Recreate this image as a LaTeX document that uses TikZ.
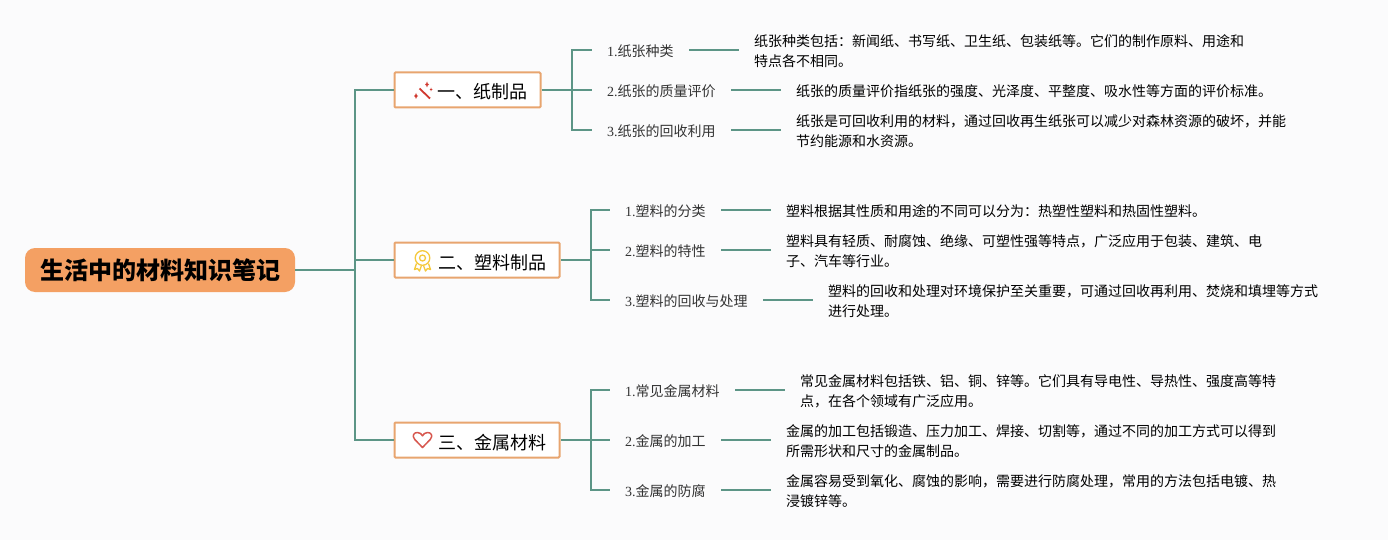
\documentclass[tikz,border=0pt]{standalone}
\usepackage{fontspec}
\setmainfont{Noto Sans CJK SC}
\newfontfamily\lat{Liberation Serif}
\definecolor{bgc}{HTML}{FBFBFC}
\definecolor{linec}{HTML}{5C9586}
\definecolor{rootc}{HTML}{F4A063}
\definecolor{boxc}{HTML}{E8A56F}
\definecolor{subt}{HTML}{333333}
\definecolor{iconr}{HTML}{D0392F}
\definecolor{icony}{HTML}{F5C93D}
\tikzset{
  x=1pt,y=-1pt,
  rootbox/.style={fill=rootc,rounded corners=10pt,minimum width=270pt,minimum height=44pt,inner sep=0pt,font=\fontsize{24}{28}\selectfont\bfseries,text=black},
  branchbox/.style={draw=boxc,line width=2pt,fill=white,rounded corners=1pt,minimum height=35pt,inner sep=0pt,anchor=west,text height=18pt,text depth=0pt,font=\fontsize{18}{22}\selectfont,text=black},
  sublabel/.style={anchor=west,inner xsep=15pt,inner ysep=2pt,yshift=-1pt,align=left,font=\fontsize{14}{18}\selectfont,text=subt},
  detail/.style={anchor=west,inner xsep=15pt,inner ysep=2pt,yshift=-1pt,align=left,font=\fontsize{14}{20}\selectfont,text=black},
  link/.style={draw=linec,line width=2pt},
  iconline/.style={line width=1.3pt,line join=round}
}
\begin{document}
\begin{tikzpicture}
\useasboundingbox (0,0) rectangle (1388,540);
\fill[bgc] (0,0) rectangle (1388,540);
% root and branches
\node[rootbox] (root) at (160,270) {生活中的材料知识笔记};
\node[branchbox,minimum width=146pt] (b1) at (393.5,90) {\hspace*{30pt}一、纸制品};
\node[branchbox,minimum width=165pt] (b2) at (393.5,260) {\hspace*{30pt}二、塑料制品};
\node[branchbox,minimum width=165pt] (b3) at (393.5,440) {\hspace*{30pt}三、金属材料};
\coordinate (t0) at (355,270);
\coordinate (t1) at (572,90);
\coordinate (t2) at (591,260);
\coordinate (t3) at (591,440);
% labels
\node[sublabel,text width=67pt] (s11) at (592,50) {{\lat 1.}纸张种类};
\node[sublabel,text width=109pt] (s12) at (592,90) {{\lat 2.}纸张的质量评价};
\node[sublabel,text width=109pt] (s13) at (592,130) {{\lat 3.}纸张的回收利用};
\node[sublabel,text width=81pt] (s21) at (610,210) {{\lat 1.}塑料的分类};
\node[sublabel,text width=81pt] (s22) at (610,250) {{\lat 2.}塑料的特性};
\node[sublabel,text width=123pt] (s23) at (610,300) {{\lat 3.}塑料的回收与处理};
\node[sublabel,text width=95pt] (s31) at (610,390) {{\lat 1.}常见金属材料};
\node[sublabel,text width=81pt] (s32) at (610,440) {{\lat 2.}金属的加工};
\node[sublabel,text width=81pt] (s33) at (610,490) {{\lat 3.}金属的防腐};
% details
\node[detail] (d11) at (739,50) {纸张种类包括：新闻纸、书写纸、卫生纸、包装纸等。它们的制作原料、用途和\\特点各不相同。};
\node[detail] (d12) at (781,90) {纸张的质量评价指纸张的强度、光泽度、平整度、吸水性等方面的评价标准。};
\node[detail] (d13) at (781,130) {纸张是可回收利用的材料，通过回收再生纸张可以减少对森林资源的破坏，并能\\节约能源和水资源。};
\node[detail] (d21) at (771,210) {塑料根据其性质和用途的不同可以分为：热塑性塑料和热固性塑料。};
\node[detail] (d22) at (771,250) {塑料具有轻质、耐腐蚀、绝缘、可塑性强等特点，广泛应用于包装、建筑、电\\子、汽车等行业。};
\node[detail] (d23) at (813,300) {塑料的回收和处理对环境保护至关重要，可通过回收再利用、焚烧和填埋等方式\\进行处理。};
\node[detail] (d31) at (785,390) {常见金属材料包括铁、铝、铜、锌等。它们具有导电性、导热性、强度高等特\\点，在各个领域有广泛应用。};
\node[detail] (d32) at (771,440) {金属的加工包括锻造、压力加工、焊接、切割等，通过不同的加工方式可以得到\\所需形状和尺寸的金属制品。};
\node[detail] (d33) at (771,490) {金属容易受到氧化、腐蚀的影响，需要进行防腐处理，常用的方法包括电镀、热\\浸镀锌等。};
% connectors
\draw[link] (root.east) -- (t0);
\draw[link] (t0) |- (b1.west);
\draw[link] (t0) |- (b2.west);
\draw[link] (t0) |- (b3.west);
\draw[link] (b1.east) -- (t1);
\draw[link] (b2.east) -- (t2);
\draw[link] (b3.east) -- (t3);
\foreach \t/\a/\b/\c in {t1/s11/s12/s13,t2/s21/s22/s23,t3/s31/s32/s33}{
  \draw[link] (\t) |- ([yshift=1pt]\a.west);
  \draw[link] (\t) |- ([yshift=1pt]\b.west);
  \draw[link] (\t) |- ([yshift=1pt]\c.west);
}
\foreach \a/\b in {s11/d11,s12/d12,s13/d13,s21/d21,s22/d22,s23/d23,s31/d31,s32/d32,s33/d33}{
  \draw[link] ([yshift=1pt]\a.east) -- ([yshift=1pt]\b.west);
}
% icon: wand
\draw[iconr,line width=1.8pt] (419.5,88.5) -- (430,98.5);
\fill[iconr] (427,81.5) -- (427.7,83.5) -- (429,84.5) -- (427.7,85.5) -- (427,87.5) -- (426.3,85.5) -- (425,84.5) -- (426.3,83.5) -- cycle;
\fill[iconr] (431,87.5) -- (431.5,89) -- (432.5,89.5) -- (431.5,90) -- (431,91.5) -- (430.5,90) -- (429.5,89.5) -- (430.5,89) -- cycle;
\fill[iconr] (416,93) -- (416.8,95) -- (418,96) -- (416.8,97) -- (416,99) -- (415.2,97) -- (414,96) -- (415.2,95) -- cycle;
% icon: medal
\draw[icony,iconline] (422.5,258) circle (7.3);
\draw[icony,iconline] (422.5,258) circle (3);
\draw[icony,iconline] (416.5,263.5) -- (414.5,269.5) -- (417.5,268.5) -- (419.5,271) -- (421.5,265.5);
\draw[icony,iconline] (428.5,263.5) -- (430.5,269.5) -- (427.5,268.5) -- (425.5,271) -- (423.5,265.5);
% icon: heart
\draw[iconr!85!white,line width=1.5pt,line join=round] (422.5,447.5) -- (414.8,439.5) .. controls (411.5,435.5) and (414,432.5) .. (417.5,432.5) .. controls (420,432.5) and (421.5,434) .. (422.5,435.8) .. controls (423.5,434) and (425,432.5) .. (427.5,432.5) .. controls (431,432.5) and (433.5,435.5) .. (430.2,439.5) -- cycle;
\end{tikzpicture}
\end{document}
